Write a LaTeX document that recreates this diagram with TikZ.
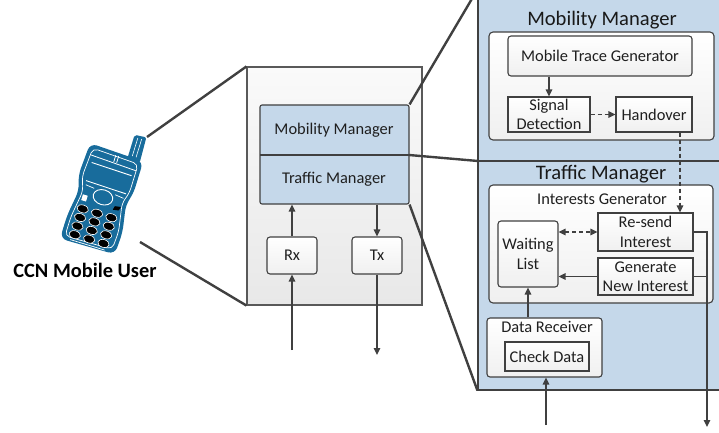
\documentclass[tikz,border=0pt]{standalone}
\usepackage{fontspec}
\setmainfont{Carlito}
\usetikzlibrary{arrows.meta,calc}
\definecolor{edge}{HTML}{404040}
\definecolor{panelblue}{RGB}{197,216,234}
\definecolor{phoneblue}{RGB}{24,108,156}
\tikzset{
  lbl/.style={font=\fontsize{16.4}{19.5}\selectfont, align=center, inner sep=0pt, text=black!88},
  title/.style={font=\fontsize{20.6}{24}\selectfont, inner sep=0pt, text=black!90},
  boxbase/.style={draw=edge, line width=1.1pt, inner sep=0pt},
  whitebox/.style={boxbase, rounded corners=3pt, top color=white, bottom color=black!6},
  sqbox/.style={boxbase, top color=white, bottom color=black!6},
  bluebox/.style={boxbase, rounded corners=2pt, fill=panelblue},
  zoomline/.style={draw=edge, line width=2.4pt},
  conn/.style={draw=edge, line width=1.4pt},
  dconn/.style={conn, dash pattern=on 4pt off 3pt},
}
\begin{document}
\begin{tikzpicture}[x=1pt,y=-1pt, >={Triangle[length=7pt,width=6.5pt]}]
\useasboundingbox (0,0) rectangle (719,433);
\clip (0,0) rectangle (719,433);

% ---------- device block ----------
\node[boxbase, draw=black!65, top color=black!2, bottom color=black!9,
      minimum width=175pt, minimum height=238pt] (dev) at (334.5,186) {};
\node[bluebox, minimum width=149pt, minimum height=99pt] (mgr) at (334.5,154.5) {};
\coordinate (mdiv) at (409,155);
\draw[edge, line width=1.1pt] (260,155) -- (mdiv);
\node[lbl] (mm) at (334,130) {Mobility Manager};
\node[lbl] (tm) at (334,179) {Traffic Manager};

\node[whitebox, minimum width=50pt, minimum height=37pt] (rx) at (292,255.5) {};
\node[lbl] at (rx) {Rx};
\node[whitebox, minimum width=50pt, minimum height=37pt] (tx) at (377,255.5) {};
\node[lbl] at (tx) {Tx};
\coordinate (rxin) at (292,350);
\coordinate (txout) at (377,355);
\draw[conn,->] (rxin) -- (rx.south);
\draw[conn,->] (rx.north) -- (rx.north |- mgr.south);
\draw[conn,->] (tx.north |- mgr.south) -- (tx.north);
\draw[conn,->] (tx.south) -- (txout);

% ---------- detail panel ----------
\node[boxbase, fill=panelblue, minimum width=260pt, minimum height=400pt] (panel) at (608,190) {};
\coordinate (pdiv) at (478,161);
\draw[edge, line width=1.1pt] (pdiv) -- (pdiv -| panel.east);

% zoom lines
\draw[zoomline] (mgr.north east) -- (panel.north west);
\draw[zoomline] (mdiv) -- (pdiv);
\draw[zoomline] (mgr.south east) -- (panel.south west);

% mobility manager
\node[title, anchor=base] (mmt) at (602,26) {Mobility Manager};
\node[whitebox, rounded corners=4pt, minimum width=225pt, minimum height=108pt] (mmbox) at (601.5,86) {};
\node[whitebox, minimum width=184pt, minimum height=40pt] (mtg) at (600,56) {};
\node[lbl] at (mtg) {Mobile Trace Generator};
\node[sqbox, minimum width=82pt, minimum height=35pt] (sd) at (549,114.5) {};
\node[lbl] at (sd) {Signal\\Detection};
\node[sqbox, minimum width=76pt, minimum height=35pt] (ho) at (654,114.5) {};
\node[lbl] at (ho) {Handover};
\draw[conn,->] (sd.north |- mtg.south) -- (sd.north);
\draw[dconn,->] (sd.east) -- (ho.west);

% traffic manager
\node[title, anchor=base] (tmt) at (601,179) {Traffic Manager};
\node[whitebox, rounded corners=4pt, minimum width=224pt, minimum height=118pt] (igbox) at (601,244) {};
\node[lbl, anchor=base] (ig) at (602,204) {Interests Generator};
\node[whitebox, minimum width=60pt, minimum height=66pt] (wl) at (528,254) {};
\node[lbl] at (wl) {Waiting\\List};
\node[sqbox, minimum width=95pt, minimum height=38pt] (rs) at (645.5,232) {};
\node[lbl] at (rs) {Re-send\\Interest};
\node[sqbox, minimum width=95pt, minimum height=37pt] (gn) at (645.5,276.5) {};
\node[lbl] at (gn) {Generate\\New Interest};

\node[whitebox, minimum width=115pt, minimum height=59pt] (dr) at (544.5,347.5) {};
\node[lbl, anchor=base] (drl) at (547,332) {Data Receiver};
\node[sqbox, minimum width=84pt, minimum height=29pt] (cd) at (547,356.5) {};
\node[lbl] at (cd) {Check Data};

\coordinate (hoout) at ([xshift=26pt]ho.south);
\draw[dconn,->] (hoout) -- (hoout |- rs.north);
\draw[dconn,<->] (wl.east |- rs.west) -- (rs.west);
\draw[conn,->] (gn.west) -- (gn.west -| wl.east);
\coordinate (out) at (707,427);
\draw[conn,->] (rs.east) -| (out);
\draw[conn] (gn.east) -- (gn.east -| out);
\draw[conn,->] (wl.south |- dr.north) -- (wl.south);
\coordinate (din) at (546,425);
\draw[conn,->] (din) -- (din |- dr.south);

% ---------- mobile user ----------
\coordinate (ph1) at (147,137);
\coordinate (ph2) at (140,242);
\draw[zoomline] (ph1) -- (dev.north west);
\draw[zoomline] (ph2) -- (dev.south west);

\begin{scope}[shift={(102,197)}, rotate=-17]
  % antenna
  \fill[phoneblue, rounded corners=2pt] (13,-44) -- (13,-69) -- (25,-70) -- (26,-44) -- cycle;
  \draw[white, line width=0.6pt] (17,-48) -- (17,-67) (21,-48) -- (21,-67);
  % body
  \fill[phoneblue, rounded corners=7pt] (-27,-48) -- (29,-46) -- (29,-12) -- (25,0) -- (30,28) -- (29,51) -- (-28,52) -- (-28,28) -- (-24,0) -- (-29,-14) -- cycle;
  \draw[white, line width=0.7pt, rounded corners=5pt] (-23,-44) -- (25,-42) -- (25,-12) -- (21,0) -- (26,28) -- (25,47) -- (-24,48) -- (-24,28) -- (-20,0) -- (-25,-14) -- cycle;
  % top strip and earpiece
  \draw[white, line width=0.8pt] (-23,-37) -- (25,-35);
  \draw[white, line width=0.8pt] (1,-44) -- (1,-37) (4,-44) -- (4,-37);
  % screen
  \draw[white, line width=0.9pt] (-20,-30) -- (22,-29);
  \draw[white, line width=0.9pt] (-20,-11) -- (22,-10);
  % navigation
  \draw[white, line width=0.9pt] (1,0) ellipse (10pt and 7.5pt);
  \draw[white, line width=0.7pt] (-19,-7) -- (-10,-6) (12,-6) -- (21,-5);
  \fill[white] (-19,3) rectangle (-14,9);
  \fill[black] (15,5) -- (21,4) -- (20,8) -- (14,9) -- cycle;
  % keypad
  \foreach \ky in {17,26,35,44}
    \foreach \kx in {-15,0,15}
      \filldraw[fill=black, draw=white, line width=0.6pt] (\kx,\ky) ellipse (5.8pt and 3.9pt);
  % bottom line
  \draw[white, line width=0.7pt] (-18,50) -- (18,50);
\end{scope}
\node[font=\fontsize{20.4}{24}\selectfont\bfseries, inner sep=0pt, anchor=base] (user) at (85,277) {CCN Mobile User};
\end{tikzpicture}
\end{document}
